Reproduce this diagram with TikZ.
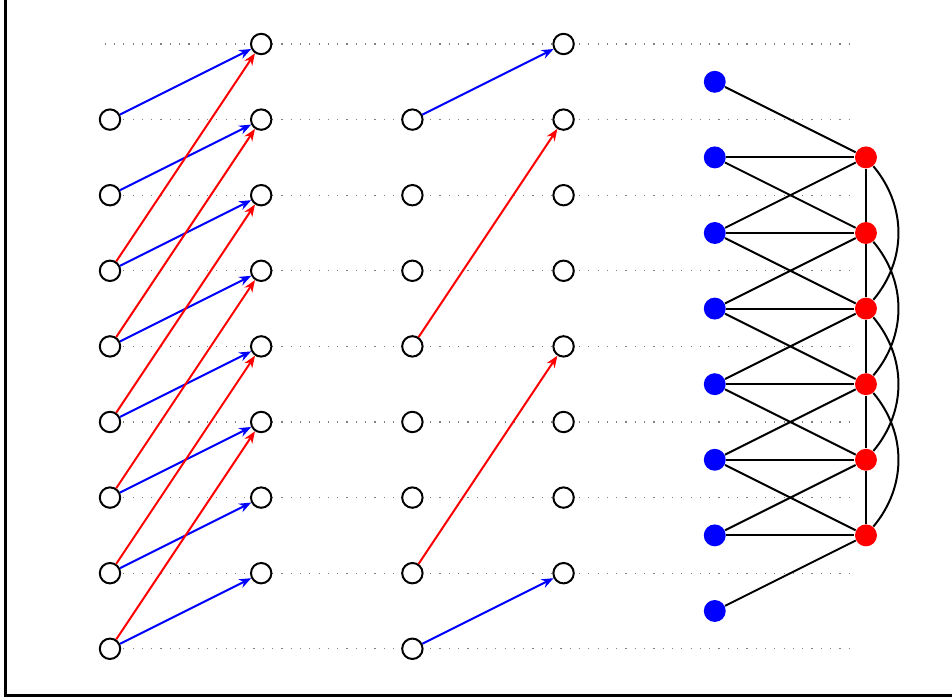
\documentclass[tikz,border=0pt]{standalone}
\usetikzlibrary{arrows.meta}
\begin{document}
\begin{tikzpicture}[x=1cm,y=1cm,
  vtx/.style={circle,draw=black,fill=white,line width=0.75pt,inner sep=0pt,minimum size=0.27cm},
  bv/.style={circle,fill=blue,inner sep=0pt,minimum size=0.29cm},
  rv/.style={circle,fill=red,inner sep=0pt,minimum size=0.29cm},
  guide/.style={gray,line width=0.45pt,dash pattern=on 0.45pt off 3.05pt},
  barr/.style={blue,line width=0.75pt,-{Stealth[length=4.5pt,width=3.5pt]}},
  rarr/.style={red,line width=0.75pt,-{Stealth[length=4.5pt,width=3.5pt]}},
  edge/.style={black,line width=0.75pt}]
\useasboundingbox (-1.455,-8.677) rectangle (11.138,0.582);
\draw[line width=1.1pt] (-1.38,-8.618) rectangle (12,1.5);
% dotted guide lines
\foreach \r in {0,...,8}
  \draw[guide] (-0.07,-\r) -- (9.85,-\r);
% group 1 and 2 nodes
\foreach \r in {1,...,8} {
  \node[vtx] (a\r) at (0,-\r) {};
  \node[vtx] (c\r) at (4,-\r) {};
}
\foreach \r in {0,...,7} {
  \node[vtx] (b\r) at (2,-\r) {};
  \node[vtx] (d\r) at (6,-\r) {};
}
% group 1 edges
\foreach \r [evaluate=\r as \p using int(\r-1)] in {1,...,8}
  \draw[barr] (a\r) -- (b\p);
\foreach \r [evaluate=\r as \p using int(\r-3)] in {3,...,8}
  \draw[rarr] (a\r) -- (b\p);
% group 2 edges
\draw[barr] (c1) -- (d0);
\draw[rarr] (c4) -- (d1);
\draw[rarr] (c7) -- (d4);
\draw[barr] (c8) -- (d7);
% group 3 nodes
\foreach \j in {0,...,7}
  \node[bv] (p\j) at (8,-\j-0.5) {};
\foreach \j in {1,...,6}
  \node[rv] (q\j) at (10,-\j-0.5) {};
% group 3 edges
\foreach \j in {1,...,6}
  \draw[edge] (p\j) -- (q\j);
\foreach \j [evaluate=\j as \k using int(\j+1)] in {0,...,5}
  \draw[edge] (p\j) -- (q\k);
\foreach \j [evaluate=\j as \k using int(\j-1)] in {2,...,7}
  \draw[edge] (p\j) -- (q\k);
\foreach \j [evaluate=\j as \k using int(\j+1)] in {1,...,5}
  \draw[edge] (q\j) -- (q\k);
\foreach \j [evaluate=\j as \k using int(\j+2)] in {1,...,4}
  \draw[edge] (q\j) to[bend left=40] (q\k);
\end{tikzpicture}
\end{document}
